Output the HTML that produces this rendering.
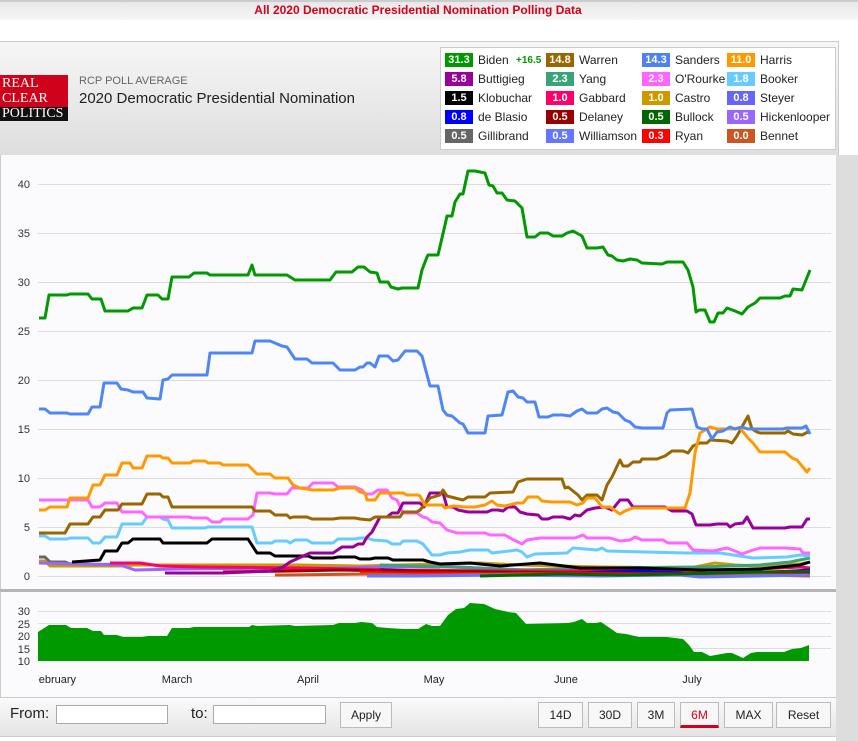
<!DOCTYPE html>
<html><head><meta charset="utf-8"><style>
body{margin:0;width:858px;height:741px;overflow:hidden;background:#fff;font-family:"Liberation Sans",Arial,sans-serif;position:relative}
.abs{position:absolute}
.lg{position:absolute;font-size:12px;color:#222;line-height:14px}
.bx{position:absolute;width:28px;height:14px;color:#fff;font-size:11px;text-align:center;line-height:14px;font-weight:bold}
.btn{position:absolute;top:702px;height:24px;border:1px solid #bbb;background:#f7f7f7;font-size:12px;line-height:24px;text-align:center;color:#222}
.inp{position:absolute;top:705px;height:17px;border:1px solid #aaa;background:#fff}
</style></head><body>
<div class="abs" style="left:0;top:0;width:858px;height:20px;background:linear-gradient(#e8e8e8,#f6f6f6);border-top:2px solid #ccc;box-sizing:border-box"></div>
<div class="abs" style="left:0;top:3px;width:836px;text-align:center;color:#d0021b;font-weight:bold;font-size:12px">All 2020 Democratic Presidential Nomination Polling Data</div>
<div class="abs" style="left:0;top:41px;width:838px;height:113px;background:linear-gradient(#f6f6f6,#dedede);border-top:1px solid #ccc;border-right:1px solid #ccc;border-bottom:1px solid #ccc"></div>
<div class="abs" style="left:0;top:75px;width:68px;height:46px;background:#d0021b"></div>
<div class="abs" style="left:0;top:107px;width:68px;height:14px;background:#111"></div>
<div class="abs" style="left:2px;top:76px;color:#fff;font-family:'Liberation Serif',serif;font-size:14px;line-height:15px">REAL<br>CLEAR<br>POLITICS</div>
<div class="abs" style="left:79px;top:75px;font-size:11px;color:#666">RCP POLL AVERAGE</div>
<div class="abs" style="left:79px;top:90px;font-size:15px;color:#222">2020 Democratic Presidential Nomination</div>
<div class="abs" style="left:440px;top:47px;width:396px;height:103px;background:#fff;border:1px solid #ccc;box-sizing:border-box"></div>

<div class="bx" style="left:445px;top:53px;background:#009900">31.3</div><div class="lg" style="left:478px;top:53px">Biden</div><div class="lg" style="left:516px;top:54px;font-size:10px;color:#090;font-weight:bold">+16.5</div>
<div class="bx" style="left:546px;top:53px;background:#996600">14.8</div><div class="lg" style="left:579px;top:53px">Warren</div>
<div class="bx" style="left:642px;top:53px;background:#4f81f0">14.3</div><div class="lg" style="left:675px;top:53px">Sanders</div>
<div class="bx" style="left:727px;top:53px;background:#ff9900">11.0</div><div class="lg" style="left:760px;top:53px">Harris</div>

<div class="bx" style="left:445px;top:72px;background:#990099">5.8</div><div class="lg" style="left:478px;top:72px">Buttigieg</div>
<div class="bx" style="left:546px;top:72px;background:#3aa37a">2.3</div><div class="lg" style="left:579px;top:72px">Yang</div>
<div class="bx" style="left:642px;top:72px;background:#ff66ff">2.3</div><div class="lg" style="left:675px;top:72px">O'Rourke</div>
<div class="bx" style="left:727px;top:72px;background:#66ccff">1.8</div><div class="lg" style="left:760px;top:72px">Booker</div>

<div class="bx" style="left:445px;top:91px;background:#000">1.5</div><div class="lg" style="left:478px;top:91px">Klobuchar</div>
<div class="bx" style="left:546px;top:91px;background:#ff0066">1.0</div><div class="lg" style="left:579px;top:91px">Gabbard</div>
<div class="bx" style="left:642px;top:91px;background:#cc9900">1.0</div><div class="lg" style="left:675px;top:91px">Castro</div>
<div class="bx" style="left:727px;top:91px;background:#6666ff">0.8</div><div class="lg" style="left:760px;top:91px">Steyer</div>

<div class="bx" style="left:445px;top:110px;background:#0000ff">0.8</div><div class="lg" style="left:478px;top:110px">de Blasio</div>
<div class="bx" style="left:546px;top:110px;background:#990000">0.5</div><div class="lg" style="left:579px;top:110px">Delaney</div>
<div class="bx" style="left:642px;top:110px;background:#006600">0.5</div><div class="lg" style="left:675px;top:110px">Bullock</div>
<div class="bx" style="left:727px;top:110px;background:#9966ff">0.5</div><div class="lg" style="left:760px;top:110px">Hickenlooper</div>

<div class="bx" style="left:445px;top:129px;background:#666">0.5</div><div class="lg" style="left:478px;top:129px">Gillibrand</div>
<div class="bx" style="left:546px;top:129px;background:#6677ff">0.5</div><div class="lg" style="left:579px;top:129px">Williamson</div>
<div class="bx" style="left:642px;top:129px;background:#ff0000">0.3</div><div class="lg" style="left:675px;top:129px">Ryan</div>
<div class="bx" style="left:727px;top:129px;background:#cc5522">0.0</div><div class="lg" style="left:760px;top:129px">Bennet</div>

<div class="abs" style="left:836px;top:155px;width:22px;height:586px;background:#ddd"></div>
<div class="abs" style="left:0;top:155px;width:836px;height:542px;background:#fbfbfd;border-left:1px solid #ccc;box-sizing:border-box"></div>

<svg class="abs" style="left:0;top:0" width="858" height="741" font-family="Liberation Sans, sans-serif">
<defs><clipPath id="cp" clipPathUnits="userSpaceOnUse"><rect x="38" y="660" width="800" height="40"/></clipPath></defs>
<g stroke="#dcdcdc" stroke-width="1">
<line x1="38" x2="831" y1="184.5" y2="184.5"/><line x1="38" x2="831" y1="233.5" y2="233.5"/><line x1="38" x2="831" y1="282.5" y2="282.5"/><line x1="38" x2="831" y1="331.5" y2="331.5"/><line x1="38" x2="831" y1="380.5" y2="380.5"/><line x1="38" x2="831" y1="429.5" y2="429.5"/><line x1="38" x2="831" y1="478.5" y2="478.5"/><line x1="38" x2="831" y1="527.5" y2="527.5"/><line x1="38" x2="831" y1="576.5" y2="576.5"/>
<line x1="38" x2="831" y1="611.5" y2="611.5"/><line x1="38" x2="831" y1="623.5" y2="623.5"/><line x1="38" x2="831" y1="636.5" y2="636.5"/><line x1="38" x2="831" y1="648.5" y2="648.5"/>
</g>
<g font-size="11" fill="#333" text-anchor="end">
<text x="30" y="188">40</text><text x="30" y="237">35</text><text x="30" y="286">30</text><text x="30" y="335">25</text><text x="30" y="384">20</text><text x="30" y="433">15</text><text x="30" y="482">10</text><text x="30" y="531">5</text><text x="30" y="580">0</text>
<text x="30" y="615">30</text><text x="30" y="628">25</text><text x="30" y="640">20</text><text x="30" y="653">15</text><text x="30" y="665">10</text>
</g>
<rect x="0" y="589" width="836" height="3" fill="#b5b5b5"/>
<g fill="none" stroke-width="3" stroke-linejoin="round">
<polyline stroke="#666" points="39,557 45,557 50,562 65,562 70,564 160,565 210,567 250,567 260,570 330,568 380,566 440,567"/>
<polyline stroke="#cc9900" points="39,561 45,561 50,566 120,566 135,565 250,565 300,565 360,566 400,565 440,564 480,563 520,565 560,566 600,567 690,568 700,566 715,563 735,565 760,566 800,564 810,562"/>
<polyline stroke="#9966ff" points="39,563 120,565 135,570 180,569 300,568 340,568 380,567 440,566 500,569 560,571 620,572 700,573 760,572 810,571"/>
<polyline stroke="#3aa37a" points="380,565 450,567 520,570 600,568 700,567 760,565 790,562 810,558"/>
<polyline stroke="#ff0066" points="110,563 140,563 160,566 200,567 300,568 400,570 500,571 600,571 700,570 740,570 760,569 800,567 810,568"/>
<polyline stroke="#0000ff" points="380,570 450,572 560,574 600,572 640,571 700,574 760,573 810,570"/>
<polyline stroke="#990099" points="165,573 223,573"/>
<polyline stroke="#990000" points="223,572 290,571 340,570 400,571 500,572 600,573 700,574 810,574"/>
<polyline stroke="#ff0000" points="360,572 400,573 450,573 500,574 560,573 620,574 680,574 700,572 720,576 760,574 810,575"/>
<polyline stroke="#cc5522" points="275,575 285,575 370,574 420,575 520,574 600,575 700,574 810,576"/>
<polyline stroke="#6677ff" points="367,576 387,576 400,576 417,576 500,575 600,576 680,575 700,577 810,575"/>
<polyline stroke="#006600" points="480,576 520,575 560,574 620,575 680,574 760,572 810,571"/>
<polyline stroke="#000" points="72,562 100,560 105,551 117,551 122,543 128,543 133,539 160,539 163,543 207,543 212,539 248,539 257,553 270,553 275,556 308,556 313,558 333,558 338,557 355,557 360,559 370,559 375,558 388,558 393,560 423,560 430,562 440,564 470,563 500,566 540,563 580,568 640,568 700,570 760,569 800,565 810,562"/>
<polyline stroke="#66ccff" points="39,536 45,536 50,539 67,539 70,538 88,538 93,543 100,543 105,537 117,537 122,524 142,524 147,517 160,517 163,519 168,520 172,528 205,528 208,527 252,527 257,543 272,543 275,541 287,541 290,543 295,540 307,540 312,543 333,543 338,539 355,539 360,538 367,538 373,540 387,541 392,544 400,544 403,541 417,541 423,544 432,555 440,555 447,553 460,552 470,550 488,550 492,553 517,550 522,552 527,557 535,554 567,553 573,548 597,550 602,548 607,551 687,553 720,553 740,556 753,558 787,557 800,555 810,556"/>
<polyline stroke="#ff66ff" points="39,500 88,500 92,507 100,507 105,503 117,503 122,512 142,512 147,517 188,517 193,518 207,518 212,522 220,522 223,519 248,519 253,515 257,493 270,493 275,494 287,494 292,488 308,488 313,483 333,483 338,487 355,487 362,490 365,494 372,494 378,490 387,490 392,498 397,500 403,513 417,513 423,517 427,518 432,522 440,523 447,530 457,533 485,533 490,535 505,535 510,538 522,544 527,540 540,538 575,538 583,535 587,538 610,538 620,541 630,540 635,537 642,540 663,540 668,543 687,543 693,550 713,551 727,548 735,551 742,554 750,551 760,548 785,548 800,549 803,553 810,553"/>
<polyline stroke="#990099" points="223,573 270,571 283,567 290,562 310,553 333,553 342,547 353,547 358,544 363,544 367,537 372,532 380,517 387,517 392,513 398,513 403,503 417,503 420,503 424,507 430,493 443,493 447,507 453,507 458,510 468,512 487,512 492,510 498,510 503,511 508,507 515,507 520,512 527,514 538,515 542,519 548,519 553,517 563,517 570,519 575,515 580,516 587,510 595,508 605,507 612,510 620,500 628,500 633,507 665,507 672,511 687,511 692,514 696,525 710,525 717,524 727,524 730,527 735,524 743,523 747,517 753,528 785,528 790,527 802,527 807,519 810,519"/>
<polyline stroke="#996600" points="39,533 65,533 70,524 88,524 93,517 100,517 105,510 118,510 122,504 142,504 147,494 160,494 163,497 168,497 172,507 252,507 255,511 270,511 275,515 287,515 290,518 293,517 307,517 312,519 333,519 340,518 355,518 360,519 370,520 375,517 400,517 403,512 417,512 420,510 430,498 440,495 443,490 447,496 463,500 468,497 485,497 490,493 513,492 518,482 527,479 562,479 565,488 568,487 578,495 582,500 587,495 597,495 602,500 607,485 612,477 620,460 623,466 628,466 633,462 640,462 642,459 657,459 665,456 672,451 683,451 688,453 693,446 700,443 707,443 710,440 727,441 732,443 737,436 743,425 748,416 752,429 757,432 760,433 785,433 788,431 793,434 802,435 808,432 810,433"/>
<polyline stroke="#ff9900" points="39,510 45,510 50,507 67,507 70,498 88,498 93,485 100,485 105,475 117,475 122,463 130,463 133,468 142,468 147,456 160,456 163,458 168,458 172,463 190,463 193,461 205,461 208,463 220,463 223,465 248,465 257,474 270,474 275,478 288,478 293,485 300,488 313,490 333,490 340,488 355,488 360,492 365,493 367,500 375,500 380,493 390,493 403,493 407,495 418,495 420,496 425,505 442,505 445,508 453,506 465,507 475,507 485,505 492,501 497,505 505,506 517,503 523,503 528,497 538,497 542,501 552,502 570,502 577,505 583,503 587,498 595,498 602,507 610,507 620,514 625,511 633,508 685,508 690,493 695,453 700,433 710,427 717,429 733,429 740,428 748,438 753,443 760,452 785,452 792,458 797,460 807,472 810,468"/>
<polyline stroke="#4f86f7" points="39,409 45,409 50,413 67,413 70,414 88,414 92,407 100,407 104,383 117,383 121,389 128,390 133,392 143,392 147,398 160,399 163,380 168,379 172,375 207,375 210,353 252,353 255,341 270,341 275,343 282,346 287,347 295,359 307,359 312,363 333,363 340,370 355,370 360,367 363,367 367,363 370,363 375,367 379,356 388,356 393,361 398,360 405,351 417,351 422,356 430,386 438,386 443,410 447,415 452,416 460,423 463,424 468,433 485,433 488,416 502,415 508,392 513,391 518,397 523,398 527,402 535,402 539,417 548,417 553,415 563,415 570,416 577,411 582,409 587,413 597,413 602,409 607,408 613,412 618,413 625,420 630,422 635,427 642,428 663,428 667,413 670,410 692,409 697,427 702,429 707,429 712,439 717,432 723,431 730,427 735,429 742,427 748,429 783,429 787,428 802,428 806,426 810,434"/>
<polyline stroke="#009900" points="39,318 45,318 49,295 67,295 70,294 88,294 92,299 101,299 105,311 128,311 133,308 142,308 147,295 158,295 162,299 168,299 172,277 189,277 194,273 207,273 210,275 248,275 252,265 255,275 287,275 295,280 330,280 336,272 352,272 358,267 364,267 370,272 377,273 380,282 388,282 391,287 398,289 402,288 418,288 422,270 427,257 428,255 438,255 445,225 447,216 452,216 455,202 460,194 463,194 468,171 475,171 485,173 489,185 493,186 497,193 502,193 507,200 515,201 522,208 527,237 535,237 540,233 548,233 553,236 562,236 567,233 573,231 582,236 587,248 597,248 603,247 608,255 612,256 617,260 623,261 630,259 637,260 642,263 662,264 667,262 683,262 688,270 693,287 696,312 699,310 705,310 710,322 714,322 718,313 723,313 727,308 735,311 742,314 748,307 755,303 760,298 780,298 785,296 790,296 793,289 802,290 810,270"/>
</g>
<polygon fill="#009900" points="38,661 38,632 49,625 66,625 71,628 87,628 93,631 101,631 104,635 117,635 123,637 142,637 148,636 167,636 172,628 189,628 194,627 249,627 252,625 257,626 290,625 295,626 333,625 339,623 355,623 361,622 372,623 377,627 388,628 404,629 418,629 426,624 432,626 440,626 448,615 456,609 464,608 470,603 484,604 495,609 508,612 516,613 526,624 568,623 574,622 582,619 587,623 596,623 601,622 617,633 626,634 639,637 667,637 683,639 689,645 694,652 702,652 710,656 727,653 732,653 743,658 751,653 757,652 784,652 792,649 801,648 809,645 809,661"/>
<g font-size="11" fill="#222">
<g clip-path="url(#cp)"><text x="32" y="683">February</text></g>
<g text-anchor="middle"><text x="177" y="683">March</text><text x="308" y="683">April</text><text x="434" y="683">May</text><text x="566" y="683">June</text><text x="692" y="683">July</text></g>
</g>
</svg>
<div class="abs" style="left:0;top:697px;width:836px;height:40px;background:linear-gradient(#fafafa,#e4e4e4);border-top:1px solid #ccc;border-bottom:1px solid #ccc;box-sizing:border-box"></div>
<div class="abs" style="left:10px;top:705px;font-size:15px;color:#222">From:</div>
<div class="inp" style="left:56px;width:110px"></div>
<div class="abs" style="left:191px;top:705px;font-size:15px;color:#222">to:</div>
<div class="inp" style="left:213px;width:111px"></div>
<div class="btn" style="left:340px;width:50px">Apply</div>
<div class="btn" style="left:538px;width:43px">14D</div>
<div class="btn" style="left:588px;width:42px">30D</div>
<div class="btn" style="left:637px;width:36px">3M</div>
<div class="btn" style="left:680px;width:37px;color:#d0021b;border-bottom:3px solid #d0021b;height:22px">6M</div>
<div class="btn" style="left:724px;width:47px">MAX</div>
<div class="btn" style="left:776px;width:53px">Reset</div>
</body></html>
